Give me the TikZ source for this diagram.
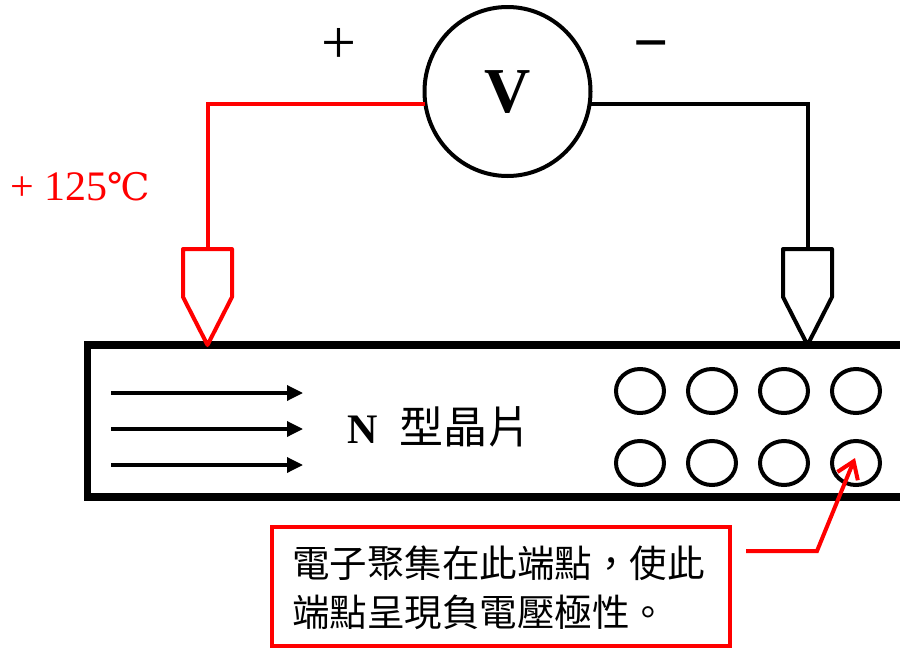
\documentclass[tikz,border=0pt]{standalone}
\usepackage{fontspec}
\usetikzlibrary{arrows.meta,shapes.geometric,calc}
\setmainfont{Liberation Serif}
\newfontfamily\cjk{Noto Sans CJK TC}
\newfontfamily\symf{DejaVu Serif}
\definecolor{myred}{RGB}{255,0,0}
\begin{document}
\begin{tikzpicture}[x=1pt,y=-1pt,
  wire/.style={line width=4pt},
  hole/.style={ellipse,draw,line width=4pt,minimum width=48pt,minimum height=44pt,inner sep=0pt,outer sep=0pt},
  flow/.style={line width=3.4pt,-{Triangle[length=16pt,width=15pt]}},
  lbl/.style={inner sep=0pt}
]
\useasboundingbox (0,0) rectangle (900,648);
\path[clip] (0,0) rectangle (900,648);
\node[ellipse,draw,line width=4pt,minimum width=166pt,minimum height=169pt,inner sep=0pt,outer sep=0pt] (v) at (507.5,91.5) {};
\node[lbl,font=\fontsize{64}{66}\selectfont\bfseries] (vl) at (507.5,92) {V};
\node[lbl,font=\fontsize{62}{62}\selectfont] (plus) at (339,46) {+};
\node[lbl,font=\fontsize{62}{62}\selectfont\bfseries] (minus) at (651,52) {−};
\node[lbl,text=myred,anchor=west,font=\fontsize{42}{44}\selectfont] (temp) at (10,187) {+ 125{\symf\fontsize{38}{38}\selectfont ℃}};
\coordinate (lt) at (207.5,249);
\coordinate (rt) at (807.5,249);
\draw[wire,myred] (v.189) -- (v.189 -| lt) -- (lt);
\draw[wire] (v.-9) -- (v.-9 -| rt) -- (rt);
\node[draw,line width=7.5pt,minimum width=830pt,minimum height=152pt,anchor=north west,inner sep=0pt,outer sep=0pt] (chip) at (87.5,345) {};
\draw[wire,myred,line join=round] (lt) -- (183,249) -- (183,297) -- (207.5,345) -- (232,297) -- (232,249) -- cycle;
\draw[wire,line join=round] (rt) -- (783,249) -- (783,297) -- (807.5,345) -- (832,297) -- (832,249) -- cycle;
\coordinate (a1) at (111,393); \coordinate (b1) at (303,393);
\coordinate (a2) at (111,429); \coordinate (b2) at (303,429);
\coordinate (a3) at (111,465); \coordinate (b3) at (303,465);
\draw[flow] (a1) -- (b1);
\draw[flow] (a2) -- (b2);
\draw[flow] (a3) -- (b3);
\node[lbl,anchor=west] (chipl) at (347,427) {\fontsize{42}{44}\selectfont\bfseries N\hspace{22pt}{\cjk\mdseries\fontsize{44}{46}\selectfont 型晶片}};
\foreach \n/\x/\y in {a/640/391,b/712/391,c/784/391,d/856/391,e/640/463,f/712/463,g/784/463,h/856/463}
  \node[hole] (\n) at (\x,\y) {};
\node[draw=myred,line width=4pt,minimum width=458pt,minimum height=119pt,anchor=north west,inner sep=0pt,outer sep=0pt] (box) at (272,527) {};
\node[lbl,anchor=west] (t1) at (292,563) {\cjk\fontsize{37.5}{40}\selectfont 電子聚集在此端點，使此};
\node[lbl,anchor=west] (t2) at (292,612) {\cjk\fontsize{37.5}{40}\selectfont 端點呈現負電壓極性。};
\coordinate (c0) at (746,551);
\coordinate (c1) at (817,551);
\draw[line width=4pt,myred,-{Straight Barb[length=16pt,width=22pt]}] (c0) -- (c1) -- ($(h.center)+(-1,-5)$);
\end{tikzpicture}
\end{document}
